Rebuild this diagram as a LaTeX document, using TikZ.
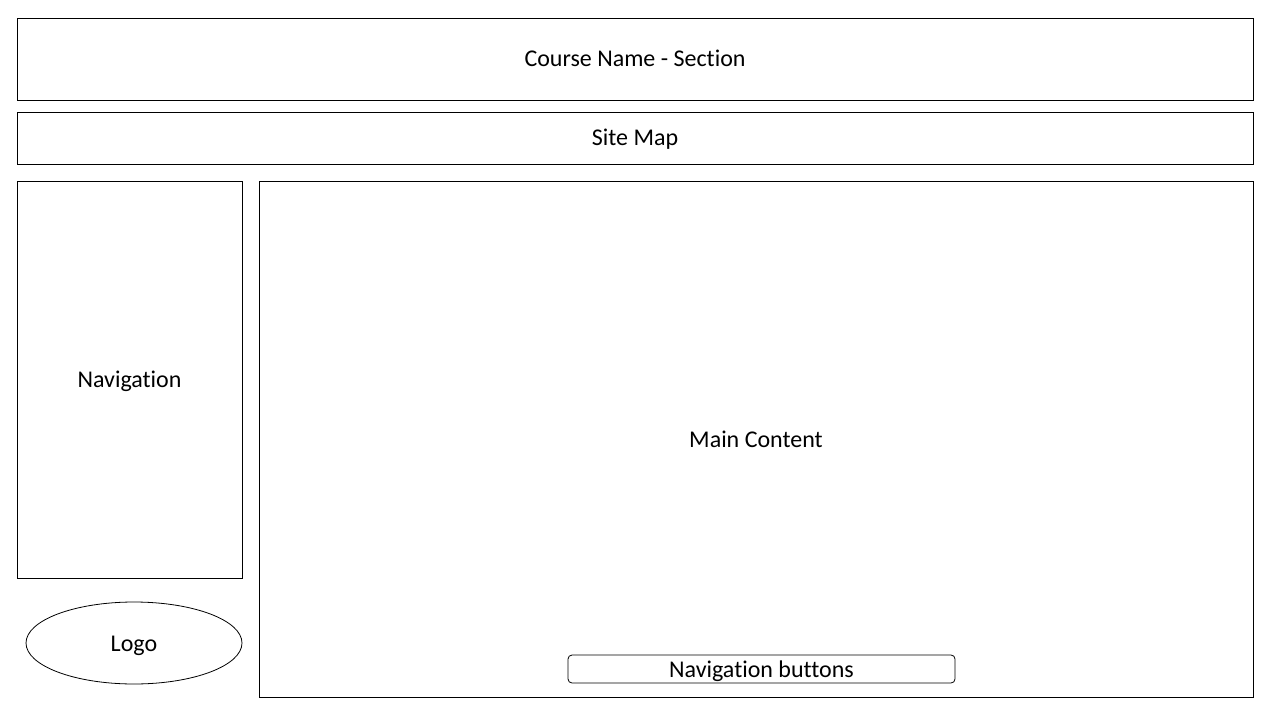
\documentclass[tikz,border=0pt]{standalone}
\usepackage{fontspec}
\setmainfont[RawFeature=-liga]{Carlito}
\usetikzlibrary{shapes.geometric}

\begin{document}
\begin{tikzpicture}[
  x=0.75pt,y=-0.75pt,
  every node/.style={font=\fontsize{18}{21}\selectfont,text height=13pt,text depth=1pt},
  panel/.style={draw,line width=0.6pt,inner sep=0pt},
  button/.style={panel,rounded corners=3pt}
]
\useasboundingbox (0,0) rectangle (1280,720);
\node[panel,minimum width=927pt,minimum height=61.5pt] (course) at (635,59) {Course Name - Section};
\node[panel,minimum width=927pt,minimum height=39pt] (sitemap) at (635,138) {Site Map};
\node[panel,minimum width=168.75pt,minimum height=297.75pt] (nav) at (129.5,379.5) {Navigation};
\node[panel,minimum width=745.5pt,minimum height=387pt] (main) at (756,439) {Main Content};
\node[panel,ellipse,minimum width=162pt,minimum height=61.5pt] (logo) at (134,643) {Logo};
\node[button,minimum width=290.25pt,minimum height=21pt] (navbuttons) at (761.5,669) {Navigation buttons};
\end{tikzpicture}
\end{document}
